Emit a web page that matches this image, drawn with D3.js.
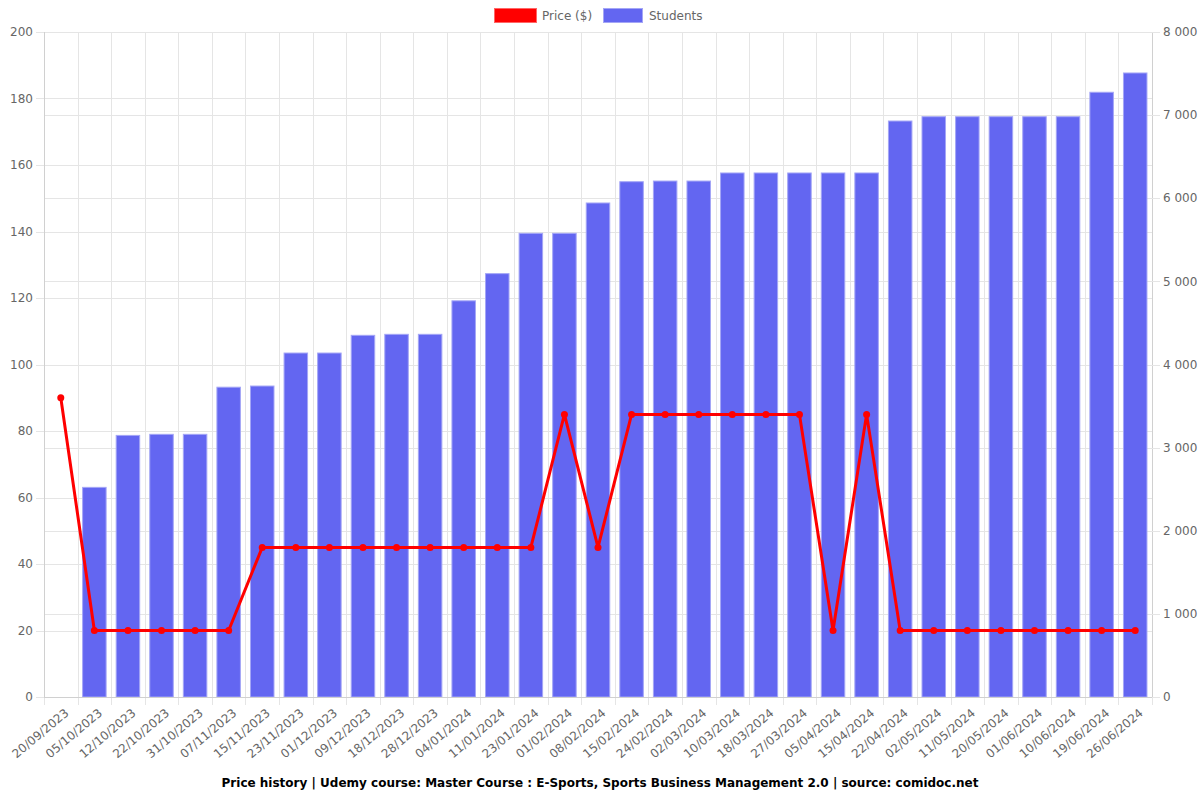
<!DOCTYPE html>
<html>
<head>
<meta charset="utf-8">
<script src="https://cdn.jsdelivr.net/npm/d3@7"></script>
<style>
  html, body { margin: 0; padding: 0; background: #fff; }
  svg { display: block; font-family: "DejaVu Sans", sans-serif; }
</style>
</head>
<body>
<svg id="chart" width="1200" height="800"></svg>
<script>
const dates = ["20/09/2023","05/10/2023","12/10/2023","22/10/2023","31/10/2023","07/11/2023","15/11/2023","23/11/2023","01/12/2023","09/12/2023","18/12/2023","28/12/2023","04/01/2024","11/01/2024","23/01/2024","01/02/2024","08/02/2024","15/02/2024","24/02/2024","02/03/2024","10/03/2024","18/03/2024","27/03/2024","05/04/2024","15/04/2024","22/04/2024","02/05/2024","11/05/2024","20/05/2024","01/06/2024","10/06/2024","19/06/2024","26/06/2024"];
const prices = [90,20,20,20,20,20,45,45,45,45,45,45,45,45,45,85,45,85,85,85,85,85,85,20,85,20,20,20,20,20,20,20,20];
const students = [null,2522,3147,3160,3160,3727,3741,4138,4138,4351,4363,4363,4766,5093,5578,5578,5943,6199,6207,6207,6304,6304,6304,6304,6304,6929,6981,6981,6981,6981,6981,7275,7507];
const priceTicks = [0,20,40,60,80,100,120,140,160,180,200];
const studentTicks = [0,1000,2000,3000,4000,5000,6000,7000,8000];
const titleText = "Price history | Udemy course: Master Course : E-Sports, Sports Business Management 2.0 | source: comidoc.net";

const svg = d3.select("#chart");
const L = 44, R = 1152, T = 32, B = 697;

const x = d3.scaleBand().domain(dates).range([L, R]).padding(0);
const yP = d3.scaleLinear().domain([0, 200]).range([B, T]);
const yS = d3.scaleLinear().domain([0, 8000]).range([B, T]);

const gridColor = "#e5e5e5";
const axisColor = "#d0d0d0";
const textColor = "#666";

// horizontal grid lines
const grid = svg.append("g");
grid.selectAll("line.hp").data(priceTicks).join("line")
  .attr("x1", L).attr("x2", R)
  .attr("y1", d => Math.round(yP(d)) + 0.5).attr("y2", d => Math.round(yP(d)) + 0.5)
  .attr("stroke", gridColor);
grid.selectAll("line.hs").data(studentTicks).join("line")
  .attr("x1", L).attr("x2", R)
  .attr("y1", d => Math.round(yS(d)) + 0.5).attr("y2", d => Math.round(yS(d)) + 0.5)
  .attr("stroke", gridColor);
// vertical grid lines at band boundaries
const bounds = dates.map(d => x(d)).concat([R]);
grid.selectAll("line.v").data(bounds).join("line")
  .attr("x1", d => Math.round(d) + 0.5).attr("x2", d => Math.round(d) + 0.5)
  .attr("y1", T).attr("y2", B + 8)
  .attr("stroke", gridColor);

// bars
const bw = x.bandwidth() * 0.7;
svg.append("g").selectAll("rect").data(dates.map((d, i) => ({d, v: students[i]})).filter(o => o.v != null)).join("rect")
  .attr("x", o => x(o.d) + (x.bandwidth() - bw) / 2)
  .attr("width", bw)
  .attr("y", o => yS(o.v))
  .attr("height", o => B - yS(o.v))
  .attr("fill", "#6366f1")
  .attr("stroke", "#a4a6f6")
  .attr("stroke-width", 1);

// axes lines
svg.append("line").attr("x1", L + 0.5).attr("x2", L + 0.5).attr("y1", T).attr("y2", B).attr("stroke", axisColor);
svg.append("line").attr("x1", R + 0.5).attr("x2", R + 0.5).attr("y1", T).attr("y2", B).attr("stroke", axisColor);
svg.append("line").attr("x1", L).attr("x2", R).attr("y1", B + 0.5).attr("y2", B + 0.5).attr("stroke", axisColor);

// left axis
const la = svg.append("g");
la.selectAll("line").data(priceTicks).join("line")
  .attr("x1", L - 8).attr("x2", L)
  .attr("y1", d => Math.round(yP(d)) + 0.5).attr("y2", d => Math.round(yP(d)) + 0.5)
  .attr("stroke", gridColor);
la.selectAll("text").data(priceTicks).join("text")
  .attr("x", L - 11).attr("y", d => yP(d))
  .attr("dy", "0.35em")
  .attr("text-anchor", "end")
  .attr("font-size", 12).attr("fill", textColor)
  .text(d => d);

// right axis
const fmt = d3.formatLocale({decimal: ".", thousands: " ", grouping: [3], currency: ["", ""]}).format(",");
const ra = svg.append("g");
ra.selectAll("line").data(studentTicks).join("line")
  .attr("x1", R).attr("x2", R + 8)
  .attr("y1", d => Math.round(yS(d)) + 0.5).attr("y2", d => Math.round(yS(d)) + 0.5)
  .attr("stroke", gridColor);
ra.selectAll("text").data(studentTicks).join("text")
  .attr("x", R + 11).attr("y", d => yS(d))
  .attr("dy", "0.35em")
  .attr("text-anchor", "start")
  .attr("font-size", 12).attr("fill", textColor)
  .text(d => fmt(d));

// x labels
svg.append("g").selectAll("text").data(dates).join("text")
  .attr("transform", d => `translate(${x(d) + x.bandwidth() / 2 + 6},${B + 14}) rotate(-40)`)
  .attr("text-anchor", "end")
  .attr("dy", "0.35em")
  .attr("font-size", 12).attr("fill", textColor)
  .text(d => d);

// price line
const line = d3.line().x((d, i) => x(dates[i]) + x.bandwidth() / 2).y(d => yP(d));
svg.append("path").datum(prices)
  .attr("d", line)
  .attr("fill", "none")
  .attr("stroke", "#ff0000")
  .attr("stroke-width", 3)
  .attr("stroke-linejoin", "round");
svg.append("g").selectAll("circle").data(prices).join("circle")
  .attr("cx", (d, i) => x(dates[i]) + x.bandwidth() / 2)
  .attr("cy", d => yP(d))
  .attr("r", 3.5)
  .attr("fill", "#ff0000");

// legend
const lg = svg.append("g");
lg.append("rect").attr("x", 494.5).attr("y", 8.5).attr("width", 42).attr("height", 14)
  .attr("fill", "#ff0000").attr("stroke", "#ff6666");
lg.append("text").attr("x", 542).attr("y", 20).attr("font-size", 12).attr("fill", textColor).text("Price ($)");
lg.append("rect").attr("x", 603.5).attr("y", 8.5).attr("width", 39).attr("height", 14)
  .attr("fill", "#6366f1").attr("stroke", "#a4a6f6");
lg.append("text").attr("x", 649).attr("y", 20).attr("font-size", 12).attr("fill", textColor).text("Students");

// title
svg.append("text").attr("x", 600).attr("y", 787)
  .attr("text-anchor", "middle")
  .attr("font-size", 12).attr("font-weight", "bold").attr("fill", "#000")
  .text(titleText);
</script>
</body>
</html>
